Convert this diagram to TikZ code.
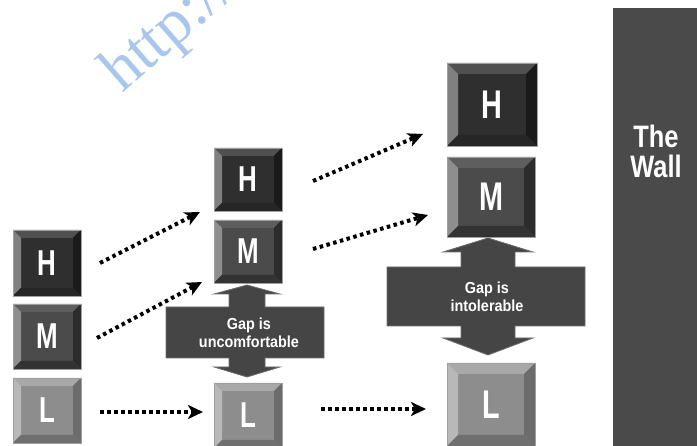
\documentclass[tikz,border=0pt]{standalone}
\usepackage{fontspec}
\setmainfont{Liberation Sans}
\newfontfamily\condfont[FakeStretch=0.72]{Liberation Sans}
\newfontfamily\wallfont[FakeStretch=0.82]{Liberation Sans}
\newfontfamily\gapfont[FakeStretch=0.9]{Liberation Sans}
\newfontfamily\wmfont{Liberation Serif}
\usetikzlibrary{arrows.meta,calc}
\definecolor{Hface}{HTML}{2F2F2F}
\definecolor{Htop}{HTML}{505050}
\definecolor{Hleft}{HTML}{808080}
\definecolor{Hright}{HTML}{1A1A1A}
\definecolor{Hbot}{HTML}{262626}
\definecolor{Mface}{HTML}{4B4B4B}
\definecolor{Mtop}{HTML}{5E5E5E}
\definecolor{Mleft}{HTML}{8E8E8E}
\definecolor{Mright}{HTML}{2C2C2C}
\definecolor{Mbot}{HTML}{333333}
\definecolor{Lface}{HTML}{8D8D8D}
\definecolor{Ltop}{HTML}{A8A8A8}
\definecolor{Lleft}{HTML}{B8B8B8}
\definecolor{Lright}{HTML}{6C6C6C}
\definecolor{Lbot}{HTML}{6F6F6F}
\definecolor{gapgray}{HTML}{454545}
\definecolor{gapedge}{HTML}{6E6E6E}
\definecolor{wallgray}{HTML}{4A4A4A}
\definecolor{wmblue}{HTML}{A9C7EE}
\definecolor{keyedge}{HTML}{A0A0A0}
\tikzset{
  keybase/.style={inner sep=0pt, outer sep=0pt},
  keyletter/.style={text=white, inner sep=0pt},
  gapshape/.style={fill=gapgray, draw=gapedge, line width=0.8pt},
  gaptext/.style={text=white, align=center, inner sep=0pt,
    font=\gapfont\bfseries\fontsize{16}{18}\selectfont},
  dotarrow/.style={line width=4pt, dash pattern=on 3.5pt off 3.5pt,
    -{Stealth[length=15pt,width=14pt,inset=4pt]}},
}
\newcommand\drawkey[9]{%
  \node[keybase, fill=#7face, minimum width=#4pt, minimum height=#5pt] (#1) at (#2,#3) {};
  \fill[#7top] (#1.north west) -- (#1.north east) -- ($(#1.north east)+(-#6,#6)$) -- ($(#1.north west)+(#6,#6)$) -- cycle;
  \fill[#7left] (#1.north west) -- ($(#1.north west)+(#6,#6)$) -- ($(#1.south west)+(#6,-#6)$) -- (#1.south west) -- cycle;
  \fill[#7right] (#1.north east) -- (#1.south east) -- ($(#1.south east)+(-#6,-#6)$) -- ($(#1.north east)+(-#6,#6)$) -- cycle;
  \fill[#7bot] (#1.south west) -- (#1.south east) -- ($(#1.south east)+(-#6,-#6)$) -- ($(#1.south west)+(#6,-#6)$) -- cycle;
  \draw[keyedge, line width=0.8pt] (#1.north west) rectangle (#1.south east);
  \node[keyletter, font=\condfont\bfseries\fontsize{#9}{#9}\selectfont] (#1-txt) at (#1.center) {#8};
}
\begin{document}
\begin{tikzpicture}[x=1pt,y=-1pt]
\useasboundingbox (0,0) rectangle (697,446);
\clip (0,0) rectangle (697,446);
% watermark
\node[anchor=base west, rotate=41, text=wmblue, inner sep=0pt,
  font=\wmfont\fontsize{64}{64}\selectfont] (wm) at (122,94) {http://};
% keys column 1
\drawkey{h1}{47}{263}{68}{66}{8}{H}{H}{36}
\drawkey{m1}{47}{336.5}{68}{65}{8}{M}{M}{36}
\drawkey{l1}{47}{410.5}{68}{65}{8}{L}{L}{36}
% keys column 2
\drawkey{h2}{248}{179.5}{68}{63}{8}{H}{H}{36}
\drawkey{m2}{248}{251.5}{68}{63}{8}{M}{M}{36}
\drawkey{l2}{248}{415.5}{68}{65}{8}{L}{L}{36}
% keys column 3
\drawkey{h3}{492}{104.5}{90}{83}{11}{H}{H}{40}
\drawkey{m3}{491}{197}{88}{80}{11}{M}{M}{40}
\drawkey{l3}{491}{404.5}{88}{83}{11}{L}{L}{40}
% gap shapes
\path[gapshape] (247,285) -- (280,294) -- (265,294) -- (265,307) -- (324,307) -- (324,358) -- (265,358) -- (265,367) -- (280,367) -- (247,377) -- (214,367) -- (229,367) -- (229,358) -- (166,358) -- (166,307) -- (229,307) -- (229,294) -- (214,294) -- cycle;
\node[gaptext] (gap2) at (249,333) {Gap is\\uncomfortable};
\path[gapshape] (488,238) -- (533,252) -- (515,252) -- (515,267) -- (585,267) -- (585,326) -- (515,326) -- (515,338) -- (533,338) -- (488,355) -- (443,338) -- (461,338) -- (461,326) -- (387,326) -- (387,267) -- (461,267) -- (461,252) -- (443,252) -- cycle;
\node[gaptext] (gap3) at (487,297) {Gap is\\intolerable};
% wall
\fill[wallgray] (613,8) rectangle (697,446);
\node[text=white, align=center, inner sep=0pt,
  font=\wallfont\bfseries\fontsize{31}{30}\selectfont] (wall) at (656,151) {The\\Wall};
% arrow end points
\coordinate (a1s) at (100,263);
\coordinate (a1e) at (200,212);
\coordinate (a2s) at (97,338);
\coordinate (a2e) at (202,282);
\coordinate (a3s) at (100,412);
\coordinate (a3e) at (203,412);
\coordinate (b1s) at (313,181);
\coordinate (b1e) at (423,134);
\coordinate (b2s) at (313,249);
\coordinate (b2e) at (428,215);
\coordinate (b3s) at (321,409);
\coordinate (b3e) at (426,409);
\draw[dotarrow] (a1s) -- (a1e);
\draw[dotarrow] (a2s) -- (a2e);
\draw[dotarrow] (a3s) -- (a3e);
\draw[dotarrow] (b1s) -- (b1e);
\draw[dotarrow] (b2s) -- (b2e);
\draw[dotarrow] (b3s) -- (b3e);
\end{tikzpicture}
\end{document}
